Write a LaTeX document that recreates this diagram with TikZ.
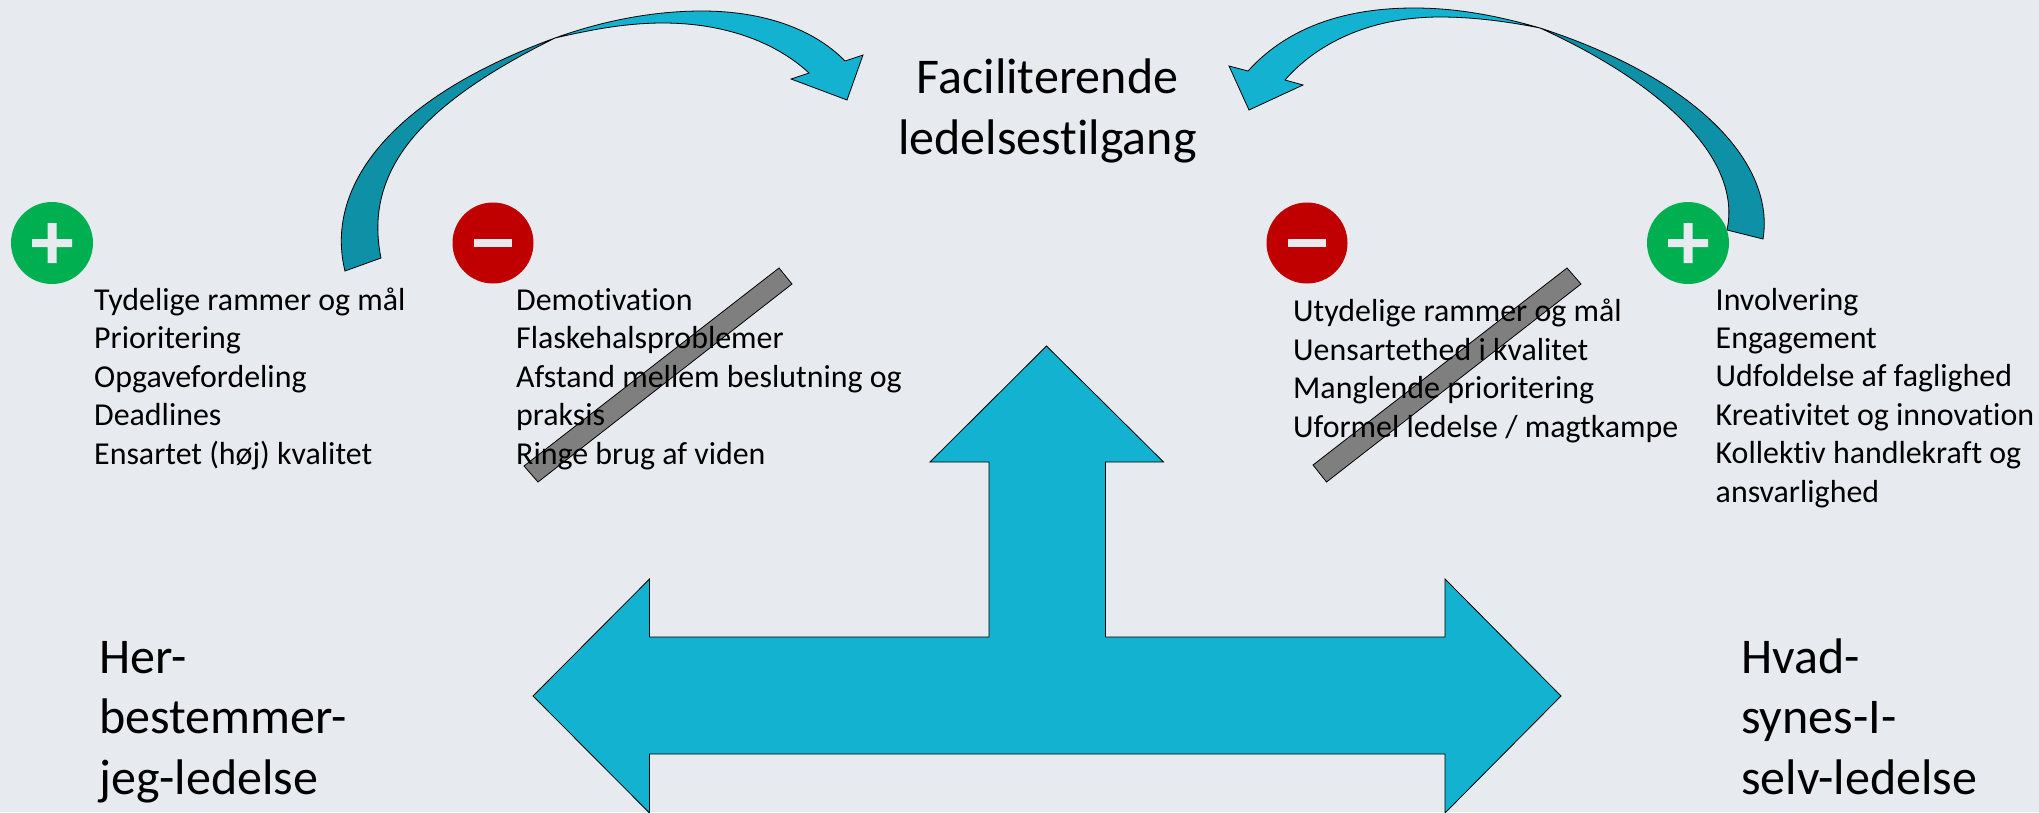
\documentclass[tikz,border=0pt]{standalone}
\usepackage{fontspec}
\setmainfont[RawFeature={-liga;-clig}]{Carlito}
\definecolor{bgc}{HTML}{E7EAEF}
\definecolor{teal}{HTML}{13B2D0}
\definecolor{tealdark}{HTML}{0E91A7}
\definecolor{barc}{HTML}{7F7F7F}
\definecolor{plusc}{HTML}{00B050}
\definecolor{minusc}{HTML}{C00000}
\tikzset{
  outl/.style={draw=black,line width=0.8pt,line join=miter},
  sign/.style={fill=bgc,draw=none},
  body/.style={anchor=base west,align=left,inner sep=0pt,font=\fontsize{31.9}{38.4}\selectfont},
  big/.style={inner sep=0pt,font=\fontsize{50}{60.5}\selectfont},
}
\begin{document}
\begin{tikzpicture}[x=1pt,y=-1pt]
\useasboundingbox (0,0) rectangle (2039,812);
\clip (0,0) rectangle (2039,812);
\fill[bgc] (0,0) rectangle (2039,812);
% T arrow
\path[outl,fill=teal] (1046.5,346) -- (1163.5,462) -- (1105.5,462) -- (1105.5,637) -- (1445,637) -- (1445,579) -- (1561,696) -- (1445,813) -- (1445,754) -- (649.5,754) -- (649.5,813) -- (533,696) -- (649.5,579) -- (649.5,637) -- (989,637) -- (989,462) -- (930,462) -- cycle;
% left curved arrow
\path[outl,fill=tealdark] (345,271) .. controls (325,190) and (385,100) .. (555,38) .. controls (430,100) and (362,165) .. (381,258) -- cycle;
\path[outl,fill=teal] (555,38) .. controls (605,20) and (655,11) .. (702,11) .. controls (765,11) and (815,30) .. (845,61) -- (863,55) -- (847,100) -- (791,79) -- (809,73) .. controls (770,37) and (715,23) .. (663,23) .. controls (625,23) and (590,30) .. (555,38) -- cycle;
% right curved arrow
\path[outl,fill=tealdark] (1763,239) .. controls (1775,165) and (1700,80) .. (1540,28) .. controls (1665,85) and (1742,160) .. (1727,230) -- cycle;
\path[outl,fill=teal] (1540,28) .. controls (1495,15) and (1455,8) .. (1414,8) .. controls (1340,8) and (1285,30) .. (1248,71) -- (1229,66) -- (1249,110) -- (1303,85) -- (1285,80) .. controls (1320,40) and (1375,17) .. (1440,17) .. controls (1475,17) and (1510,22) .. (1540,28) -- cycle;
% plus / minus badges
\fill[plusc] (52,243) circle (41);
\fill[sign] (32,239) rectangle (72,247) (47.5,223) rectangle (56.5,263);
\fill[minusc] (493,243) circle (40.5);
\fill[sign] (474,239) rectangle (512,247);
\fill[minusc] (1307,243) circle (40.5);
\fill[sign] (1288,239) rectangle (1326,247);
\fill[plusc] (1688,243) circle (41);
\fill[sign] (1668,239) rectangle (1708,247) (1683.5,223) rectangle (1692.5,263);
% strike bars
\path[outl,fill=barc] (779,268) -- (792,284) -- (538,482) -- (524,466) -- cycle;
\path[outl,fill=barc] (1567,268) -- (1581,284) -- (1326.5,482) -- (1313,465) -- cycle;
% texts
\node[body] (tplus) at (94,464) {Tydelige rammer og mål\\Prioritering\\Opgavefordeling\\Deadlines\\Ensartet (høj) kvalitet};
\node[body] (tminus) at (516,464) {Demotivation\\Flaskehalsproblemer\\Afstand mellem beslutning og\\praksis\\Ringe brug af viden};
\node[body] (rminus) at (1293,437) {Utydelige rammer og mål\\Uensartethed i kvalitet\\Manglende prioritering\\Uformel ledelse / magtkampe};
\node[body] (rplus) at (1715.5,502) {Involvering\\Engagement\\Udfoldelse af faglighed\\Kreativitet og innovation\\Kollektiv handlekraft og\\ansvarlighed};
\node[big,anchor=base,align=center] (title) at (1047.5,154) {Faciliterende\\ledelsestilgang};
\node[big,anchor=base west,align=left] (her) at (99,794) {Her-\\bestemmer-\\jeg-ledelse};
\node[big,anchor=base west,align=left] (hvad) at (1741,794) {Hvad-\\synes-I-\\selv-ledelse};
\end{tikzpicture}
\end{document}
